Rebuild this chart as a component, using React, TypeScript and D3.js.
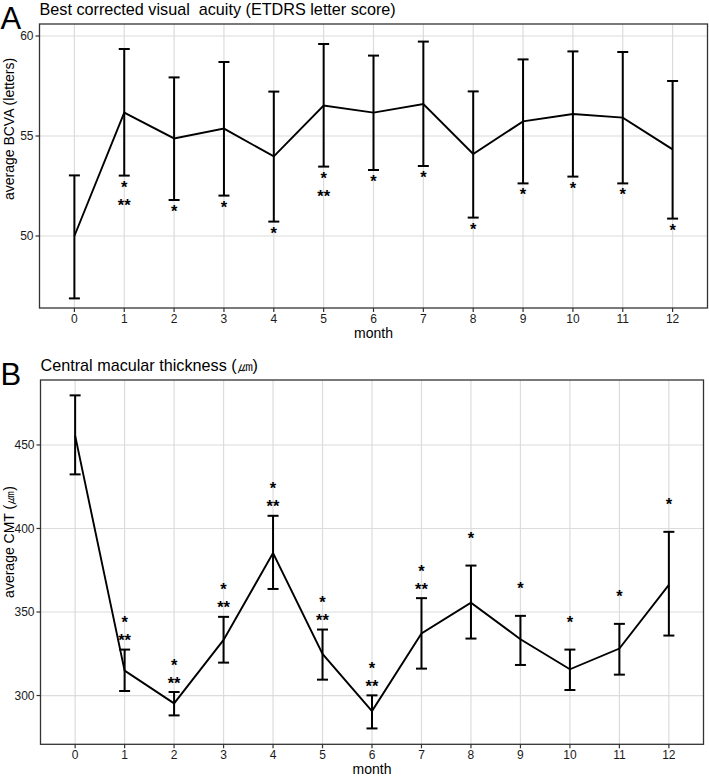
import React from "react";
import * as d3 from "d3";

const months = [0, 1, 2, 3, 4, 5, 6, 7, 8, 9, 10, 11, 12];

// Panel A: BCVA
const bcvaMean = [50.0, 56.17, 54.88, 55.37, 53.98, 56.52, 56.17, 56.6, 54.1, 55.73, 56.1, 55.92, 54.33];
const bcvaLower = [46.88, 53.02, 51.8, 52.02, 50.72, 53.47, 53.3, 53.5, 50.92, 52.63, 52.97, 52.63, 50.87];
const bcvaUpper = [53.03, 59.35, 57.93, 58.7, 57.22, 59.6, 59.02, 59.72, 57.23, 58.83, 59.23, 59.2, 57.75];
const bcvaSig1 = ["", "*", "*", "*", "*", "*", "*", "*", "*", "*", "*", "*", "*"];
const bcvaSig2 = ["", "**", "", "", "", "**", "", "", "", "", "", "", ""];
const bcvaTicks = [50, 55, 60];

// Panel B: CMT
const cmtMean = [455.6, 314.9, 295.3, 333.3, 385.3, 324.9, 290.7, 337.1, 355.6, 333.7, 315.7, 328.1, 366.2];
const cmtLower = [432.4, 302.7, 288.1, 319.7, 363.8, 309.5, 280.3, 316.1, 334.1, 318.3, 303.3, 312.5, 335.9];
const cmtUpper = [479.7, 327.5, 302.1, 347.1, 407.6, 339.5, 300.1, 358.3, 377.8, 347.7, 327.5, 342.9, 398.0];
const cmtSig1 = ["", "*", "*", "*", "*", "*", "*", "*", "*", "*", "*", "*", "*"];
const cmtSig2 = ["", "**", "**", "**", "**", "**", "**", "**", "", "", "", "", ""];
const cmtTicks = [300, 350, 400, 450];

const FONT = "'Liberation Sans', Arial, Helvetica, sans-serif";

type PanelProps = {
  letter: string;
  title: string;
  yLabel: string;
  mean: number[];
  lower: number[];
  upper: number[];
  sig1: string[];
  sig2: string[];
  yTicks: number[];
  xRange: [number, number];
  yDomain: [number, number];
  yRange: [number, number];
  yLabelCenter: number;
  sigBelow: boolean;
};

function Panel(p: PanelProps) {
  const x = d3.scaleLinear().domain([-0.7, 12.7]).range(p.xRange);
  const y = d3.scaleLinear().domain(p.yDomain).range(p.yRange);
  const [left, right] = p.xRange;
  const [bottom, top] = p.yRange;
  const line = d3
    .line<number>()
    .x((_, i) => x(months[i]))
    .y((d) => y(d));
  const capHalf = 5.5;
  const astFs = 16.5;
  const astOff = 9.5; // baseline offset from glyph center
  return (
    <g>
      <text x={0.5} y={top + 4.5} fontFamily={FONT} fontSize={31} fill="#000">
        {p.letter}
      </text>
      <text x={left} y={top - 9.5} fontFamily={FONT} fontSize={16.2} fill="#000" style={{ whiteSpace: "pre" }}>
        {p.title}
      </text>
      {/* grid */}
      {p.yTicks.map((t) => (
        <line key={"gy" + t} x1={left} x2={right} y1={y(t)} y2={y(t)} stroke="#dcdcdc" strokeWidth={1.2} />
      ))}
      {months.map((m) => (
        <line key={"gx" + m} x1={x(m)} x2={x(m)} y1={top} y2={bottom} stroke="#dcdcdc" strokeWidth={1.2} />
      ))}
      {/* error bars */}
      {months.map((m, i) => (
        <g key={"eb" + m} stroke="#000" strokeWidth={2}>
          <line x1={x(m)} x2={x(m)} y1={y(p.lower[i])} y2={y(p.upper[i])} />
          <line x1={x(m) - capHalf} x2={x(m) + capHalf} y1={y(p.lower[i])} y2={y(p.lower[i])} />
          <line x1={x(m) - capHalf} x2={x(m) + capHalf} y1={y(p.upper[i])} y2={y(p.upper[i])} />
        </g>
      ))}
      <path d={line(p.mean) || ""} fill="none" stroke="#000" strokeWidth={1.9} />
      {/* significance */}
      {months.map((m, i) => {
        const out: React.ReactNode[] = [];
        if (p.sigBelow) {
          const base = y(p.lower[i]);
          if (p.sig1[i])
            out.push(
              <text key="s1" x={x(m)} y={base + 7.5 + astOff} textAnchor="middle" fontFamily={FONT} fontWeight="bold" fontSize={astFs}>
                {p.sig1[i]}
              </text>
            );
          if (p.sig2[i])
            out.push(
              <text key="s2" x={x(m)} y={base + 26 + astOff} textAnchor="middle" fontFamily={FONT} fontWeight="bold" fontSize={astFs}>
                {p.sig2[i]}
              </text>
            );
        } else {
          const base = y(p.upper[i]);
          if (p.sig1[i])
            out.push(
              <text key="s1" x={x(m)} y={base - 31 + astOff} textAnchor="middle" fontFamily={FONT} fontWeight="bold" fontSize={astFs}>
                {p.sig1[i]}
              </text>
            );
          if (p.sig2[i])
            out.push(
              <text key="s2" x={x(m)} y={base - 13 + astOff} textAnchor="middle" fontFamily={FONT} fontWeight="bold" fontSize={astFs}>
                {p.sig2[i]}
              </text>
            );
        }
        return <g key={"sg" + m}>{out}</g>;
      })}
      {/* border */}
      <rect x={left} y={top} width={right - left} height={bottom - top} fill="none" stroke="#333" strokeWidth={1.3} />
      {/* y axis */}
      {p.yTicks.map((t) => (
        <g key={"yt" + t}>
          <line x1={left - 4} x2={left} y1={y(t)} y2={y(t)} stroke="#333" strokeWidth={1.2} />
          <text x={left - 6} y={y(t) + 4.2} textAnchor="end" fontFamily={FONT} fontSize={12} fill="#1a1a1a">
            {t}
          </text>
        </g>
      ))}
      {/* x axis */}
      {months.map((m) => (
        <g key={"xt" + m}>
          <line x1={x(m)} x2={x(m)} y1={bottom} y2={bottom + 4} stroke="#333" strokeWidth={1.2} />
          <text x={x(m)} y={bottom + 15} textAnchor="middle" fontFamily={FONT} fontSize={12} fill="#1a1a1a">
            {m}
          </text>
        </g>
      ))}
      <text x={(left + right) / 2} y={bottom + 29.5} textAnchor="middle" fontFamily={FONT} fontSize={14} fill="#000">
        month
      </text>
      <text
        transform={`translate(14,${p.yLabelCenter}) rotate(-90)`}
        textAnchor="middle"
        fontFamily={FONT}
        fontSize={14}
        fill="#000"
      >
        {p.yLabel}
      </text>
    </g>
  );
}

export default function App() {
  return (
    <svg width={709} height={776} style={{ position: "absolute", left: 0, top: 0, background: "#fff" }}>
      <rect width={709} height={776} fill="#fff" />
      <Panel
        letter="A"
        title="Best corrected visual  acuity (ETDRS letter score)"
        yLabel="average BCVA (letters)"
        mean={bcvaMean}
        lower={bcvaLower}
        upper={bcvaUpper}
        sig1={bcvaSig1}
        sig2={bcvaSig2}
        yTicks={bcvaTicks}
        xRange={[39.5, 707.5]}
        yDomain={[46.4, 60.6]}
        yRange={[308, 24]}
        yLabelCenter={129}
        sigBelow={true}
      />
      <Panel
        letter="B"
        title="Central macular thickness (㎛)"
        yLabel="average CMT (㎛)"
        mean={cmtMean}
        lower={cmtLower}
        upper={cmtUpper}
        sig1={cmtSig1}
        sig2={cmtSig2}
        yTicks={cmtTicks}
        xRange={[40.5, 703.5]}
        yDomain={[270.8, 488.9]}
        yRange={[744.3, 380]}
        yLabelCenter={542}
        sigBelow={false}
      />
    </svg>
  );
}
